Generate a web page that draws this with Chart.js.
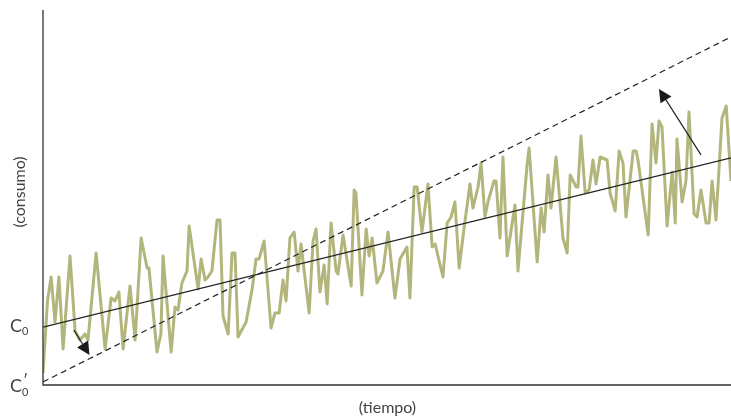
<!DOCTYPE html>
<html>
<head>
<meta charset="utf-8">
<script src="https://cdn.jsdelivr.net/npm/chart.js@4"></script>
<style>
  html, body { margin: 0; padding: 0; background: #fff; }
  #chart { display: block; }
</style>
</head>
<body>
<canvas id="chart" width="731" height="417"></canvas>
<script>
// time periods and consumption
var periods = [0, 1.5, 2.7, 4, 5.3, 6.7, 9, 10.7, 12.3, 14, 15, 17.7, 20.7, 22.7, 24, 25.3, 26.7, 29, 30.7,
  32.7, 34.7, 35.3, 38, 39.3, 40, 42.7, 44, 45, 46.3, 48, 48.7, 51.7, 52.7, 54, 55, 56.3, 58, 59, 60, 61.7,
  63, 64, 65, 67.7, 69.7, 71, 72, 73.7, 76, 77.3, 78.7, 80, 81, 82.3, 83.7, 85, 86, 88.7, 90, 91, 92.3, 93.7,
  94.7, 96, 97.7, 98.3, 100, 102.7, 103.7, 104.3, 106.3, 107.7, 108.7, 109.7, 111.3, 113.3, 115, 117.3, 119,
  121.3, 122.3, 123.7, 124.7, 126.3, 128.3, 129.7, 130.7, 133.3, 134.7, 136, 137.3, 138.7, 140.3, 142.3, 143.3,
  145, 146, 147.3, 148.3, 150.3, 151, 152.3, 153.3, 154.7, 157.3, 158.3, 161.3, 162, 164.7, 166, 167, 168.3,
  169.3, 171, 173.3, 174.7, 175.7, 177.7, 178.3, 179.3, 180.7, 182, 183.3, 184.3, 185.7, 188, 189, 190.7, 192,
  193.3, 194.3, 196.7, 197.7, 198.3, 201.7, 203, 204.3, 205.3, 206.3, 208, 209.7, 210.7, 211.3, 213, 214.3,
  215.3, 217, 218, 219.3, 221, 222, 223, 224.3, 226.3, 227.7, 229.3];
var consumo = [4, 28, 36, 21, 36, 12, 43, 18, 15, 17, 15, 44, 12, 29, 28, 31, 12, 33, 15,
  49, 39, 39, 11, 17, 43, 11, 26, 25, 34, 38, 53, 32, 42, 35, 36, 38, 55, 55, 23, 17,
  44, 44, 16, 21, 32, 42, 42, 48, 19, 24, 24, 35, 28, 49, 51, 38, 47, 24, 48, 52, 31, 40,
  27, 54, 38, 37, 50, 33, 65, 64, 30, 52, 43, 49, 34, 38, 51, 29, 42,
  46, 29, 66, 66, 51, 67, 46, 47, 36, 54, 56, 61, 39, 52, 67, 59,
  66, 74, 56, 61, 68, 68, 49, 76, 43, 60, 38, 73, 79, 41, 59, 51, 70,
  59, 76, 49, 44, 70, 66, 66, 83, 64, 65, 75, 67, 76, 75, 64, 58, 78,
  74, 56, 78, 78, 75, 50, 87, 74, 88, 86, 53, 71, 54, 82, 61, 68,
  91, 57, 56, 65, 54, 54, 68, 55, 89, 93, 68];

// straight lines: C0 trend (solid) and C'0 line (dashed)
var lineX = [0, 229.3];
var lineC0 = [19.3, 75.7];
var lineC0p = [1, 116];

// arrows [fromX, fromY, toX, toY]
var arrowDown = [10.3, 18.3, 15.5, 10];
var arrowUp = [219.3, 76.7, 205.3, 98.7];

var xMax = 229.3;
var yMax = 125;

var green = '#b3b67c';
var ink = '#222';
var textColor = '#444';
var font = "Lato, 'Open Sans', sans-serif";

function pts(xs, ys) {
  return xs.map(function (x, i) { return { x: x, y: ys[i] }; });
}

var decor = {
  id: 'decor',
  afterDatasetsDraw: function (chart) {
    var ctx = chart.ctx;
    var a = chart.chartArea;
    var xs = chart.scales.x, ys = chart.scales.y;

    ctx.save();
    // axes
    ctx.strokeStyle = '#333';
    ctx.lineWidth = 1.3;
    ctx.beginPath();
    ctx.moveTo(a.left, a.top);
    ctx.lineTo(a.left, a.bottom);
    ctx.lineTo(a.right, a.bottom);
    ctx.stroke();

    // arrows
    [arrowDown, arrowUp].forEach(function (ar) {
      var x1 = xs.getPixelForValue(ar[0]), y1 = ys.getPixelForValue(ar[1]);
      var x2 = xs.getPixelForValue(ar[2]), y2 = ys.getPixelForValue(ar[3]);
      var ang = Math.atan2(y2 - y1, x2 - x1);
      var len = 13, hw = 6.5;
      var bx = x2 - len * Math.cos(ang), by = y2 - len * Math.sin(ang);
      ctx.strokeStyle = ink;
      ctx.lineWidth = 1.2;
      ctx.beginPath();
      ctx.moveTo(x1, y1);
      ctx.lineTo(bx, by);
      ctx.stroke();
      ctx.fillStyle = '#1a1a1a';
      ctx.beginPath();
      ctx.moveTo(x2, y2);
      ctx.lineTo(bx + hw * Math.sin(ang), by - hw * Math.cos(ang));
      ctx.lineTo(bx - hw * Math.sin(ang), by + hw * Math.cos(ang));
      ctx.closePath();
      ctx.fill();
    });

    // texts
    ctx.fillStyle = textColor;
    ctx.textAlign = 'center';
    ctx.textBaseline = 'middle';
    ctx.font = '16px ' + font;
    ctx.fillText('(tiempo)', (a.left + a.right) / 2 + 0.5, 408);
    ctx.save();
    ctx.translate(20, 192);
    ctx.rotate(-Math.PI / 2);
    ctx.fillText('(consumo)', 0, 0);
    ctx.restore();

    // C0 and C'0 at the intercepts
    ctx.textAlign = 'left';
    ctx.textBaseline = 'alphabetic';
    var c0y = ys.getPixelForValue(lineC0[0]);
    var c0py = ys.getPixelForValue(lineC0p[0]);
    ctx.font = '18px ' + font;
    ctx.fillText('C', 10, c0y + 5);
    ctx.fillText('C', 10, c0py + 10);
    ctx.font = '11px ' + font;
    ctx.fillText('0', 22, c0y + 8);
    ctx.fillText('0', 22, c0py + 14);
    ctx.font = '15px ' + font;
    ctx.fillText('\u2032', 23, c0py + 4);
    ctx.restore();
  }
};

new Chart(document.getElementById('chart').getContext('2d'), {
  type: 'line',
  data: {
    datasets: [
      {
        data: pts(lineX, lineC0),
        borderColor: ink,
        borderWidth: 1.2,
        pointRadius: 0
      },
      {
        data: pts(lineX, lineC0p),
        borderColor: ink,
        borderWidth: 1.2,
        borderDash: [6, 4],
        pointRadius: 0
      },
      {
        data: pts(periods, consumo),
        borderColor: green,
        borderWidth: 3,
        borderJoinStyle: 'round',
        pointRadius: 0,
        tension: 0
      }
    ]
  },
  plugins: [decor],
  options: {
    responsive: false,
    devicePixelRatio: 1,
    animation: false,
    layout: { padding: { left: 43, top: 10, right: 0, bottom: 32 } },
    plugins: { legend: { display: false }, tooltip: { enabled: false } },
    scales: {
      x: { type: 'linear', min: 0, max: xMax, display: false },
      y: { min: 0, max: yMax, display: false }
    }
  }
});
</script>
</body>
</html>
